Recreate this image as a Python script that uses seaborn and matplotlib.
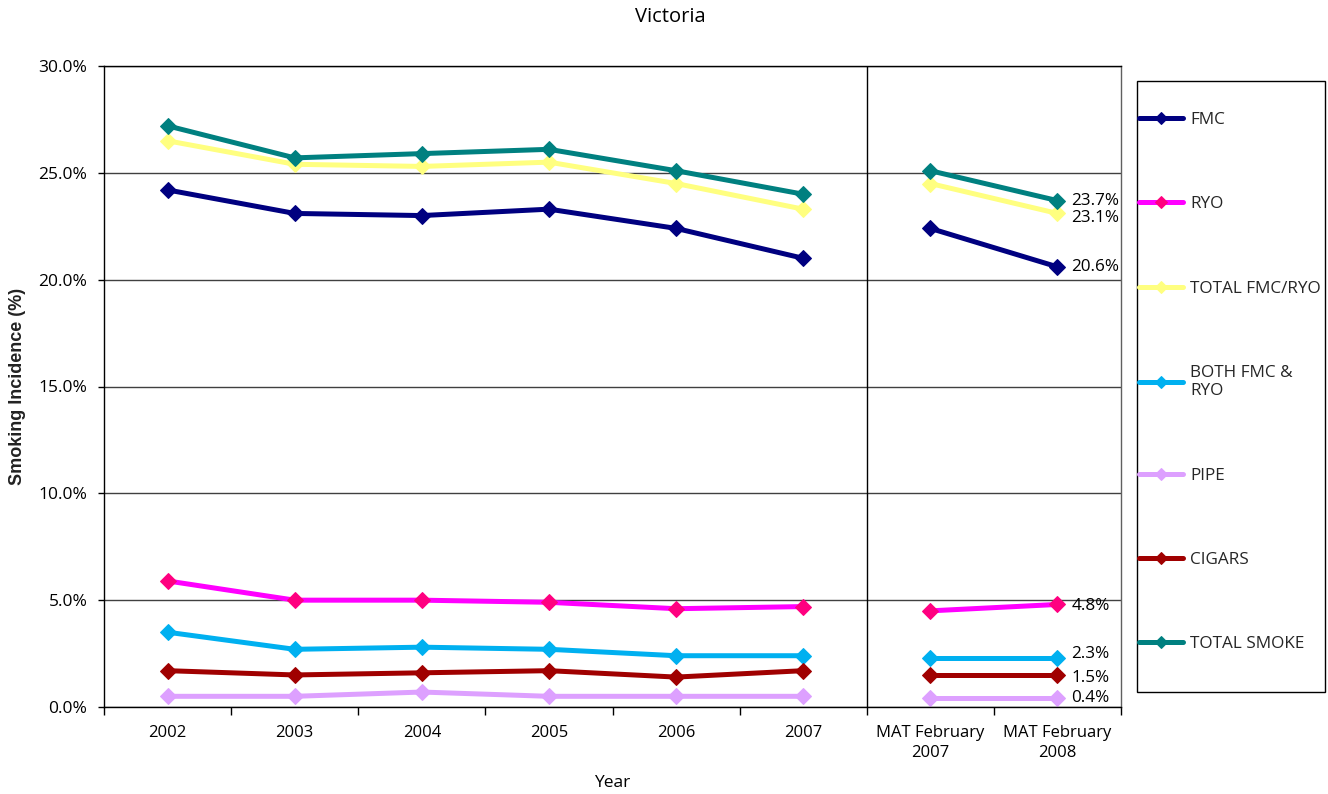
import numpy as np
import pandas as pd
import matplotlib
matplotlib.use("Agg")
import matplotlib.pyplot as plt
import matplotlib.patches as mpatches
from matplotlib.ticker import FixedLocator, FuncFormatter
import seaborn as sns

# ---- data ----
categories = ["2002", "2003", "2004", "2005", "2006", "2007",
              "MAT February\n2007", "MAT February\n2008"]
fmc = [24.2, 23.1, 23.0, 23.3, 22.4, 21.0, 22.4, 20.6]
ryo = [5.9, 5.0, 5.0, 4.9, 4.6, 4.7, 4.5, 4.8]
total_fmc_ryo = [26.5, 25.4, 25.3, 25.5, 24.5, 23.3, 24.5, 23.1]
both_fmc_ryo = [3.5, 2.7, 2.8, 2.7, 2.4, 2.4, 2.3, 2.3]
pipe = [0.5, 0.5, 0.7, 0.5, 0.5, 0.5, 0.4, 0.4]
cigars = [1.7, 1.5, 1.6, 1.7, 1.4, 1.7, 1.5, 1.5]
total_smoke = [27.2, 25.7, 25.9, 26.1, 25.1, 24.0, 25.1, 23.7]

series_names = ["FMC", "RYO", "TOTAL FMC/RYO", "BOTH FMC &\nRYO", "PIPE", "CIGARS", "TOTAL SMOKE"]
series_values = [fmc, ryo, total_fmc_ryo, both_fmc_ryo, pipe, cigars, total_smoke]
line_colors = ["#000080", "#FF00FF", "#FFFF80", "#00B0F0", "#DDA0FF", "#A00000", "#008080"]
marker_colors = ["#000080", "#FF0080", "#FFFF80", "#00B0F0", "#DDA0FF", "#A00000", "#008080"]
segments = [list(range(0, 6)), [6, 7]]

label_offsets = {"FMC": 0, "RYO": -1, "TOTAL FMC/RYO": -3.5, "BOTH FMC &\nRYO": 3,
                 "PIPE": 0, "CIGARS": -2, "TOTAL SMOKE": 0}

sns.set_theme(style="white")
plt.rcParams["font.family"] = ["Open Sans", "DejaVu Sans"]

fig = plt.figure(figsize=(13.28, 7.94), dpi=100)
W, H = 1328, 794
ax = fig.add_axes([104 / W, 1 - 707 / H, (1121 - 104) / W, (707 - 66) / H])

x_all = np.arange(len(categories))
for name, vals, lc, mc in zip(series_names, series_values, line_colors, marker_colors):
    for k, seg in enumerate(segments):
        df = pd.DataFrame({"x": x_all[seg], "v": np.array(vals)[seg]})
        sns.lineplot(data=df, x="x", y="v", ax=ax, color=lc, linewidth=3.6,
                     marker="D", markersize=8, markerfacecolor=mc, markeredgecolor=mc,
                     label=name if k == 0 else None, legend=False)
    ax.annotate(f"{vals[-1]:.1f}%", (x_all[-1], vals[-1]), xytext=(10, label_offsets[name]),
                textcoords="offset points", va="center", ha="left", fontsize=12.3, color="black")

ax.set_xlim(-0.5, len(categories) - 0.5)
ax.set_ylim(0, 30)
ax.yaxis.set_major_locator(FixedLocator(np.arange(0, 30.1, 5)))
ax.yaxis.set_major_formatter(FuncFormatter(lambda v, p: f"{v:.1f}%"))
ax.grid(True, axis="y", color="#404040", linewidth=1.0)
ax.grid(False, axis="x")
ax.axvline(5.5, color="black", linewidth=1.0)

ax.xaxis.set_major_locator(FixedLocator(np.arange(-0.5, len(categories), 1.0)))
ax.xaxis.set_major_formatter(FuncFormatter(lambda v, p: ""))
ax.xaxis.set_minor_locator(FixedLocator(x_all))
ax.set_xticks(x_all, categories, minor=True)
ax.tick_params(axis="x", which="major", direction="out", length=6, width=1, color="black", bottom=True)
ax.tick_params(axis="x", which="minor", length=0, pad=13, labelsize=12, labelcolor="black")
ax.tick_params(axis="y", which="major", direction="out", length=4, width=1, color="black",
               left=True, pad=8, labelsize=12.5, labelcolor="black")
for t in ax.get_xticklabels(minor=True):
    t.set_linespacing(1.35)

for s in ax.spines.values():
    s.set_visible(True)
    s.set_color("black")
    s.set_linewidth(1.0)
ax.spines["right"].set_color("#606060")

ax.set_xlabel("Year", fontsize=12.5, color="black")
ax.xaxis.set_label_coords(0.5, -(783 - 707) / (707 - 66))
ax.xaxis.label.set_va("center")
ax.set_ylabel("Smoking Incidence (%)", fontsize=13, fontweight="bold", color="#222222",
              family=["Liberation Sans", "DejaVu Sans"])
ax.yaxis.set_label_coords(-(104 - 18) / (1121 - 104), 0.5)
ax.yaxis.label.set_va("center")

fig.text(670 / W, 1 - 17 / H, "Victoria", ha="center", va="center", fontsize=14.5, color="black")

handles, labels = ax.get_legend_handles_labels()
fig.patches.append(mpatches.Rectangle((1137 / W, 1 - 692 / H), (1325 - 1137) / W, (692 - 81) / H,
                                      transform=fig.transFigure, fill=False, edgecolor="black",
                                      linewidth=1.0))
fig.legend(handles, labels, loc="upper left", bbox_to_anchor=(1139 / W, 1 - 112 / H),
           frameon=False, fontsize=12.3, handlelength=2.6, handletextpad=0.4,
           labelspacing=4.0, borderpad=0, borderaxespad=0, markerscale=0.8)

fig.savefig("out.png", dpi=100)
